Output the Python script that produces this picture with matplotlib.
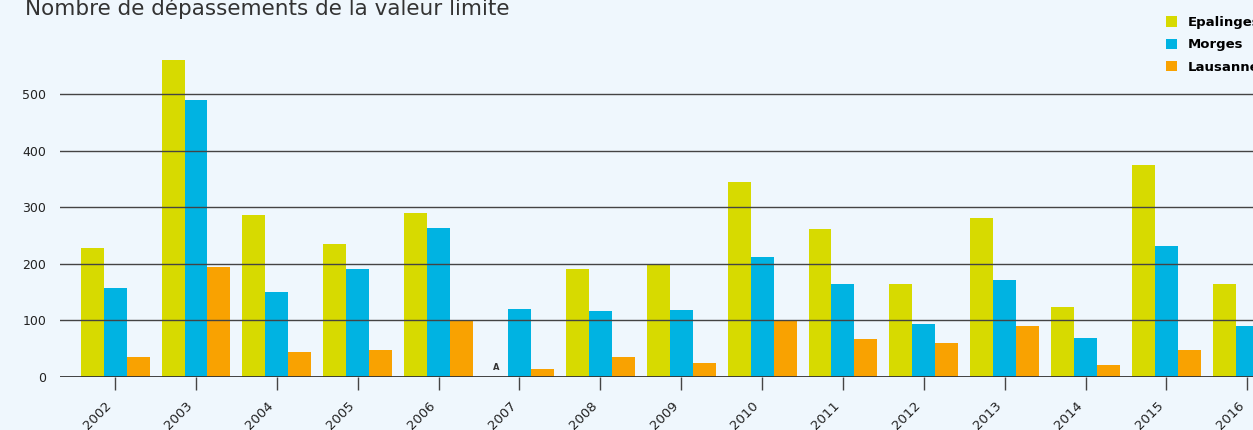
import numpy as np
import matplotlib.pyplot as plt
import matplotlib.transforms as mtransforms

years = ['2002', '2003', '2004', '2005', '2006', '2007', '2008', '2009',
         '2010', '2011', '2012', '2013', '2014', '2015', '2016']
epalinges = [228, 560, 286, 235, 290, 0, 191, 198, 345, 261, 164, 281, 124, 375, 164]
morges = [157, 489, 150, 191, 263, 120, 117, 118, 212, 164, 94, 171, 69, 232, 90]
lausanne = [35, 194, 44, 48, 99, 14, 35, 25, 99, 67, 60, 90, 21, 48, 18]
series_names = ['Epalinges', 'Morges', 'Lausanne']
colours = ['#d7da00', '#00b3e2', '#f9a201']
bg = '#eff7fd'

fig = plt.figure(figsize=(12.53, 4.3), dpi=100, facecolor=bg)
ax = fig.add_axes([0.048, 0.1233, 0.952, 0.79], facecolor=bg)

x = np.arange(len(years))
w = 0.284
for i, (vals, c, name) in enumerate(zip([epalinges, morges, lausanne], colours, series_names)):
    ax.bar(x + (i - 1) * w, vals, width=w, color=c, label=name, zorder=2)

# 2007: no data for Epalinges
ax.text(x[5] - w, 8, 'A', ha='center', va='bottom', fontsize=6, fontweight='bold', color='#333333')

ax.set_xlim(-0.68, 14.07)
ax.set_ylim(0, 600)
ax.set_yticks([0, 100, 200, 300, 400, 500])
for yv in [100, 200, 300, 400, 500]:
    ax.axhline(yv, color='#444444', lw=1.0, zorder=3)
ax.axhline(0, color='#333333', lw=1.3, zorder=3)

for s in ax.spines.values():
    s.set_visible(False)
ax.tick_params(axis='y', length=0, labelsize=9, pad=10, colors='#222222')
ax.set_xticks(x)
ax.set_xticklabels(years, rotation=45, ha='right', rotation_mode='anchor', fontsize=9.5, color='#222222')
ax.tick_params(axis='x', length=9, width=1, color='#444444', pad=6)
shift = mtransforms.ScaledTranslation(-10 / 100, -1 / 100, fig.dpi_scale_trans)
for lbl in ax.get_xticklabels():
    lbl.set_transform(lbl.get_transform() + shift)

fig.text(0.02, 0.966, 'Nombre de dépassements de la valeur limite', fontsize=15.5,
         color='#333333', va='baseline', ha='left')

ax.legend(loc='upper left', bbox_to_anchor=(0.921, 0.99), bbox_transform=fig.transFigure,
          frameon=False, handlelength=0.85, handleheight=0.85, handletextpad=0.8,
          labelspacing=0.7, prop={'weight': 'bold', 'size': 9.5})

fig.savefig('out.png', dpi=100, facecolor=bg)
